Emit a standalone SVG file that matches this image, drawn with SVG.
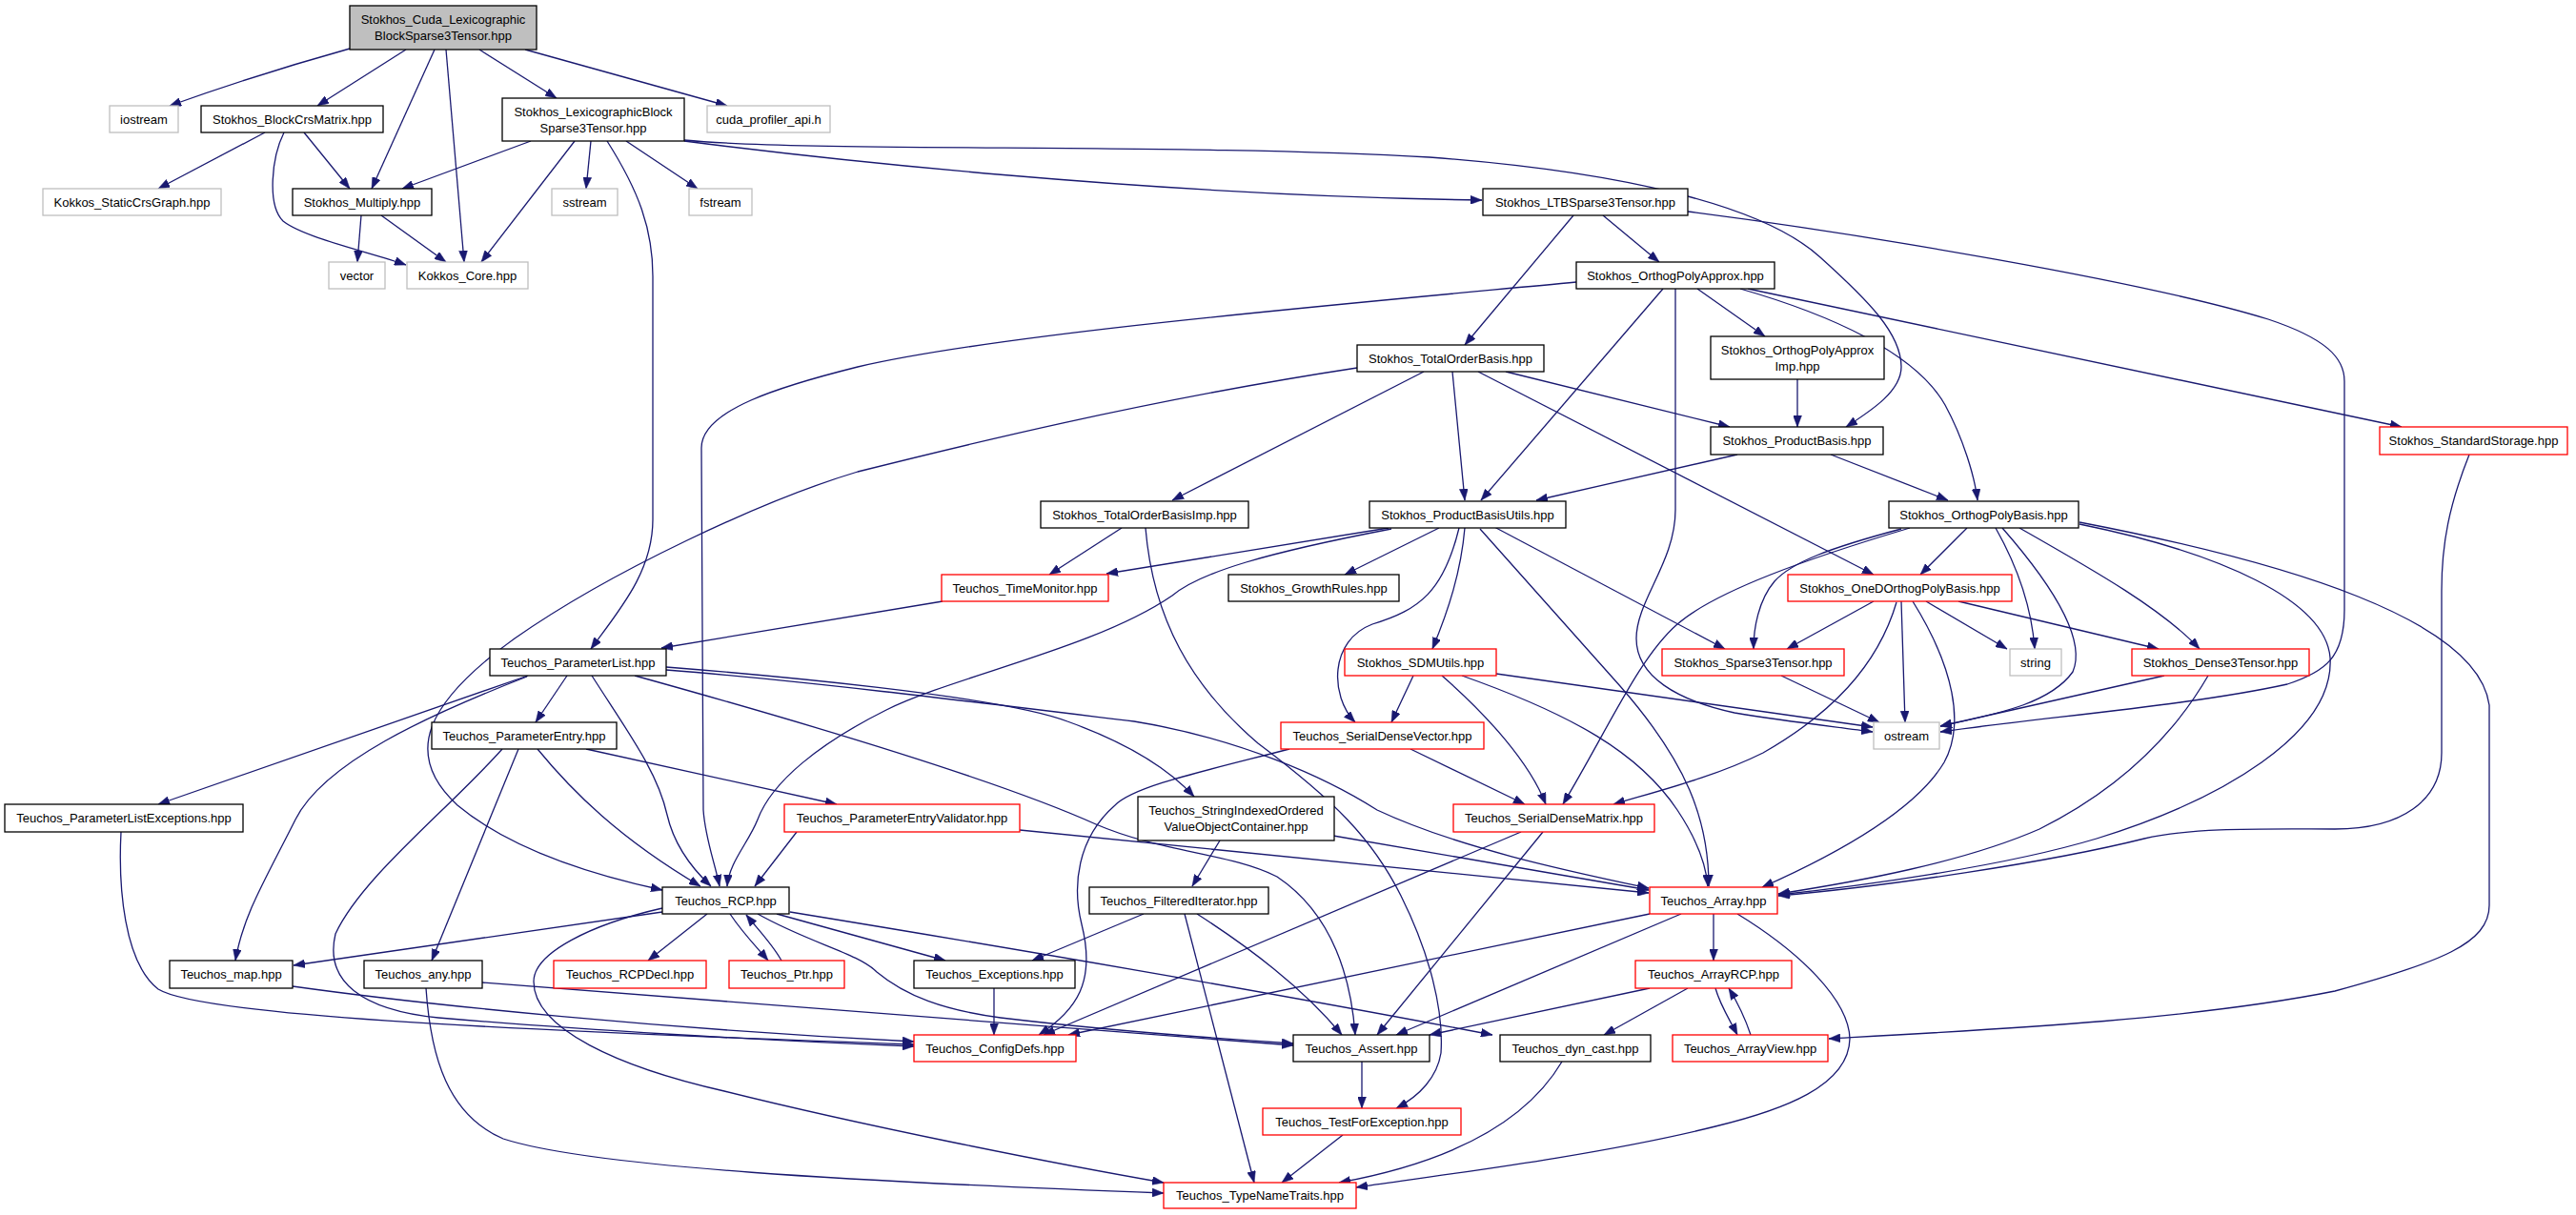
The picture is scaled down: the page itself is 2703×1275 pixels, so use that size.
<svg xmlns="http://www.w3.org/2000/svg" width="2703" height="1275" viewBox="0 0 2703 1275">
<style>
.n rect{fill:#fff;stroke:#000;stroke-width:1.3}
.r rect{stroke:#ff0000}
.g rect{stroke:#bfbfbf}
.root rect{fill:#bfbfbf}
text{font-family:"Liberation Sans",Arial,sans-serif;font-size:13px;fill:#000;text-anchor:middle}
#edges path{fill:none;stroke:#191970;stroke-width:1.3;marker-end:url(#a)}
</style>
<defs>
<marker id="a" viewBox="0 0 12 9" refX="12" refY="4.5" markerWidth="12" markerHeight="9" markerUnits="userSpaceOnUse" orient="auto">
<path d="M0,0 L12,4.5 L0,9 z" fill="#191970" stroke="#191970" stroke-width="0.5"/>
</marker>
</defs>
<rect width="2703" height="1275" fill="#fff"/>
<g id="edges">
<path d="M367,51 Q270,78 178,111"/>
<path d="M426,52 L333,111"/>
<path d="M456,52 L390,198"/>
<path d="M468,52 L487,275"/>
<path d="M503,52 L584,103"/>
<path d="M551,52 L763,111"/>
<path d="M278,139 L166,198"/>
<path d="M319,139 L367,198"/>
<path d="M298,139 C285,165 280,215 297,232 C320,250 390,265 426,278"/>
<path d="M379,226 L375,275"/>
<path d="M400,226 L468,275"/>
<path d="M557,148 L422,198"/>
<path d="M603,148 L505,275"/>
<path d="M620,148 L615,198"/>
<path d="M657,148 L732,198"/>
<path d="M637,148 C670,200 685,240 685,290 L685,545 C685,600 650,640 620,681"/>
<path d="M718,148 C850,165 1200,205 1555,210"/>
<path d="M718,147 C850,160 1250,150 1500,165 C1700,180 1850,215 1910,270 C1960,315 1995,350 1995,385 C1995,410 1965,430 1937,448"/>
<path d="M1682,226 L1741,275"/>
<path d="M1651,226 L1537,362"/>
<path d="M1771,222 C1950,245 2250,295 2380,335 C2440,355 2460,375 2460,400 L2460,640 C2460,690 2440,705 2400,718 C2300,740 2150,752 2036,768"/>
<path d="M1654,296 C1400,320 1050,350 900,385 C820,405 736,430 736,470 L738,850 C740,880 750,905 755,930"/>
<path d="M1781,303 L1852,353"/>
<path d="M1745,303 L1554,525"/>
<path d="M1758,303 L1758,535 C1758,590 1717,630 1717,670 C1717,710 1760,735 1820,748 C1880,758 1930,763 1965,768"/>
<path d="M1826,303 C1920,330 2010,370 2041,425 C2060,460 2072,500 2075,525"/>
<path d="M1834,303 L2520,448"/>
<path d="M1886,398 L1886,448"/>
<path d="M1494,390 L1230,525"/>
<path d="M1524,390 L1537,525"/>
<path d="M1580,390 L1815,448"/>
<path d="M1424,386 C1200,420 1000,470 900,495 C800,525 640,600 540,670 C450,735 420,790 480,845 C540,895 630,920 695,934"/>
<path d="M1551,390 L1966,603"/>
<path d="M1823,477 L1612,525"/>
<path d="M1921,477 L2044,525"/>
<path d="M1177,554 L1101,603"/>
<path d="M1202,554 C1210,650 1250,720 1320,780 C1400,840 1440,880 1470,940 C1500,1000 1515,1060 1512,1105 C1508,1130 1490,1150 1465,1163"/>
<path d="M1457,554 L1161,602"/>
<path d="M1460,555 C1330,580 1260,600 1230,625 C1150,680 1000,710 930,745 C860,780 810,820 795,860 C785,885 765,905 763,930"/>
<path d="M1510,554 L1411,603"/>
<path d="M1537,554 C1533,600 1520,640 1503,681"/>
<path d="M1531,554 C1515,620 1490,640 1440,655 C1395,672 1395,730 1422,758"/>
<path d="M1553,555 L1700,720 C1770,800 1793,860 1793,930"/>
<path d="M1568,553 L1810,681"/>
<path d="M1483,709 L1460,758"/>
<path d="M1513,709 C1560,750 1605,800 1622,844"/>
<path d="M1534,709 C1650,750 1720,790 1760,850 C1780,880 1790,905 1792,930"/>
<path d="M1570,707 L1965,763"/>
<path d="M1480,786 L1600,844"/>
<path d="M1353,786 C1260,810 1190,825 1170,845 C1130,880 1125,930 1135,970 C1150,1030 1130,1060 1090,1086"/>
<path d="M554,709 L166,844"/>
<path d="M553,710 C450,750 340,800 310,860 C280,920 255,960 247,1008"/>
<path d="M595,709 L562,758"/>
<path d="M621,709 C660,770 690,810 700,855 C708,890 730,915 746,930"/>
<path d="M666,709 C850,760 1050,820 1150,865 C1220,895 1290,895 1340,920 C1400,960 1418,1030 1422,1086"/>
<path d="M699,700 C800,708 1050,730 1120,757 C1170,775 1220,800 1253,836"/>
<path d="M699,703 C850,715 1050,740 1190,757 C1300,775 1390,815 1445,850 C1530,890 1650,915 1730,932"/>
<path d="M615,786 L878,844"/>
<path d="M564,786 C600,830 650,880 735,930"/>
<path d="M544,786 L453,1008"/>
<path d="M527,786 C470,850 380,920 352,980 C340,1030 380,1060 460,1068 C600,1080 800,1092 959,1098"/>
<path d="M836,873 L792,930"/>
<path d="M1070,871 L1730,937"/>
<path d="M1280,882 L1251,930"/>
<path d="M1399,877 L1730,934"/>
<path d="M1200,959 L1083,1008"/>
<path d="M1256,959 C1320,1000 1370,1040 1408,1086"/>
<path d="M1243,959 L1316,1241"/>
<path d="M1596,873 L1095,1086"/>
<path d="M1619,873 L1445,1086"/>
<path d="M1966,631 L1875,681"/>
<path d="M1995,631 L1999,758"/>
<path d="M2021,631 L2106,681"/>
<path d="M2055,631 L2265,681"/>
<path d="M1990,632 C1970,700 1920,750 1850,790 C1800,815 1740,830 1693,844"/>
<path d="M2007,631 C2050,700 2062,760 2040,800 C2010,850 1930,895 1849,931"/>
<path d="M2064,554 L2015,603"/>
<path d="M1995,555 C1920,575 1880,590 1862,610 C1845,630 1840,660 1840,681"/>
<path d="M2004,554 C1900,585 1800,620 1760,655 C1720,690 1690,760 1640,844"/>
<path d="M2094,554 C2120,600 2132,640 2135,681"/>
<path d="M2101,554 C2150,610 2190,670 2175,705 C2150,740 2090,750 2036,762"/>
<path d="M2119,554 C2200,600 2270,640 2308,681"/>
<path d="M2182,550 C2330,580 2440,630 2445,690 C2450,770 2330,840 2200,880 C2100,910 1950,930 1866,939"/>
<path d="M2182,548 C2400,590 2600,650 2612,740 L2612,950 C2612,990 2560,1010 2450,1040 C2300,1070 2100,1080 1919,1090"/>
<path d="M2271,709 L2036,762"/>
<path d="M2317,709 C2270,790 2200,840 2140,870 C2060,905 1950,925 1866,938"/>
<path d="M1869,709 L1972,758"/>
<path d="M2591,477 C2570,530 2562,570 2562,620 L2562,790 C2562,840 2520,870 2450,870 C2380,870 2300,868 2250,880 C2150,905 1980,930 1866,940"/>
<path d="M989,631 L694,680"/>
<path d="M695,957 L308,1013"/>
<path d="M742,959 L680,1008"/>
<path d="M766,959 C780,980 795,995 806,1008"/>
<path d="M820,1008 C810,990 795,975 783,960"/>
<path d="M815,959 L992,1008"/>
<path d="M795,959 C850,990 900,1000 920,1020 C950,1045 990,1060 1050,1068 C1150,1080 1250,1088 1357,1095"/>
<path d="M829,957 C1000,985 1300,1035 1566,1086"/>
<path d="M695,953 C620,970 560,1000 560,1030 C560,1080 650,1120 760,1145 C900,1180 1100,1220 1221,1241"/>
<path d="M307,1035 C450,1055 700,1080 959,1093"/>
<path d="M127,873 C124,930 130,1010 166,1038 C210,1065 500,1080 959,1096"/>
<path d="M506,1031 L1357,1097"/>
<path d="M447,1037 C452,1110 470,1170 528,1195 C620,1225 900,1240 1221,1252"/>
<path d="M1043,1037 L1043,1086"/>
<path d="M1429,1114 L1429,1163"/>
<path d="M1409,1191 L1345,1241"/>
<path d="M1639,1114 C1600,1180 1520,1220 1405,1241"/>
<path d="M1823,959 C1890,1000 1940,1050 1941,1090 C1940,1140 1870,1165 1800,1182 C1680,1212 1520,1232 1423,1246"/>
<path d="M1731,959 L1121,1086"/>
<path d="M1764,959 L1465,1086"/>
<path d="M1798,959 L1798,1008"/>
<path d="M1731,1037 L1500,1086"/>
<path d="M1771,1037 L1683,1086"/>
<path d="M1800,1037 C1805,1055 1815,1070 1823,1086"/>
<path d="M1837,1086 C1830,1065 1822,1050 1814,1037"/>
</g>
<g id="root" class="n root"><rect x="367" y="6" width="196" height="46"/><text x="465" y="25">Stokhos_Cuda_Lexicographic</text><text x="465" y="42">BlockSparse3Tensor.hpp</text></g>
<g id="iostream" class="n g"><rect x="115" y="111" width="72" height="28"/><text x="151" y="129.5">iostream</text></g>
<g id="blockcrs" class="n"><rect x="211" y="111" width="191" height="28"/><text x="306.5" y="129.5">Stokhos_BlockCrsMatrix.hpp</text></g>
<g id="lexblock" class="n"><rect x="527" y="103" width="191" height="45"/><text x="622.5" y="121.5">Stokhos_LexicographicBlock</text><text x="622.5" y="138.5">Sparse3Tensor.hpp</text></g>
<g id="cuda" class="n g"><rect x="742" y="111" width="129" height="28"/><text x="806.5" y="129.5">cuda_profiler_api.h</text></g>
<g id="staticcrs" class="n g"><rect x="45" y="198" width="187" height="28"/><text x="138.5" y="216.5">Kokkos_StaticCrsGraph.hpp</text></g>
<g id="multiply" class="n"><rect x="307" y="198" width="146" height="28"/><text x="380" y="216.5">Stokhos_Multiply.hpp</text></g>
<g id="sstream" class="n g"><rect x="579" y="198" width="69" height="28"/><text x="613.5" y="216.5">sstream</text></g>
<g id="fstream" class="n g"><rect x="723" y="198" width="66" height="28"/><text x="756" y="216.5">fstream</text></g>
<g id="vector" class="n g"><rect x="345" y="275" width="59" height="28"/><text x="374.5" y="293.5">vector</text></g>
<g id="kcore" class="n g"><rect x="427" y="275" width="127" height="28"/><text x="490.5" y="293.5">Kokkos_Core.hpp</text></g>
<g id="ltb" class="n"><rect x="1556" y="198" width="215" height="28"/><text x="1663.5" y="216.5">Stokhos_LTBSparse3Tensor.hpp</text></g>
<g id="opa" class="n"><rect x="1654" y="275" width="208" height="28"/><text x="1758" y="293.5">Stokhos_OrthogPolyApprox.hpp</text></g>
<g id="tob" class="n"><rect x="1424" y="362" width="196" height="28"/><text x="1522" y="380.5">Stokhos_TotalOrderBasis.hpp</text></g>
<g id="opaimp" class="n"><rect x="1795" y="353" width="182" height="45"/><text x="1886" y="371.5">Stokhos_OrthogPolyApprox</text><text x="1886" y="388.5">Imp.hpp</text></g>
<g id="pb" class="n"><rect x="1795" y="448" width="181" height="29"/><text x="1885.5" y="467">Stokhos_ProductBasis.hpp</text></g>
<g id="ss" class="n r"><rect x="2497" y="448" width="197" height="29"/><text x="2595.5" y="467">Stokhos_StandardStorage.hpp</text></g>
<g id="tobimp" class="n"><rect x="1092" y="526" width="218" height="28"/><text x="1201" y="544.5">Stokhos_TotalOrderBasisImp.hpp</text></g>
<g id="pbu" class="n"><rect x="1437" y="526" width="206" height="28"/><text x="1540" y="544.5">Stokhos_ProductBasisUtils.hpp</text></g>
<g id="opb" class="n"><rect x="1982" y="526" width="199" height="28"/><text x="2081.5" y="544.5">Stokhos_OrthogPolyBasis.hpp</text></g>
<g id="tm" class="n r"><rect x="988" y="603" width="175" height="28"/><text x="1075.5" y="621.5">Teuchos_TimeMonitor.hpp</text></g>
<g id="gr" class="n"><rect x="1289" y="603" width="179" height="28"/><text x="1378.5" y="621.5">Stokhos_GrowthRules.hpp</text></g>
<g id="oned" class="n r"><rect x="1876" y="603" width="235" height="28"/><text x="1993.5" y="621.5">Stokhos_OneDOrthogPolyBasis.hpp</text></g>
<g id="pl" class="n"><rect x="514" y="681" width="185" height="28"/><text x="606.5" y="699.5">Teuchos_ParameterList.hpp</text></g>
<g id="sdm" class="n r"><rect x="1411" y="681" width="159" height="28"/><text x="1490.5" y="699.5">Stokhos_SDMUtils.hpp</text></g>
<g id="s3t" class="n r"><rect x="1744" y="681" width="191" height="28"/><text x="1839.5" y="699.5">Stokhos_Sparse3Tensor.hpp</text></g>
<g id="string" class="n g"><rect x="2109" y="681" width="54" height="28"/><text x="2136" y="699.5">string</text></g>
<g id="d3t" class="n r"><rect x="2237" y="681" width="186" height="28"/><text x="2330" y="699.5">Stokhos_Dense3Tensor.hpp</text></g>
<g id="pe" class="n"><rect x="453" y="758" width="194" height="28"/><text x="550" y="776.5">Teuchos_ParameterEntry.hpp</text></g>
<g id="sdv" class="n r"><rect x="1344" y="758" width="213" height="28"/><text x="1450.5" y="776.5">Teuchos_SerialDenseVector.hpp</text></g>
<g id="ostream" class="n g"><rect x="1966" y="758" width="69" height="28"/><text x="2000.5" y="776.5">ostream</text></g>
<g id="ple" class="n"><rect x="5" y="844" width="250" height="29"/><text x="130" y="863">Teuchos_ParameterListExceptions.hpp</text></g>
<g id="pev" class="n r"><rect x="823" y="844" width="247" height="29"/><text x="946.5" y="863">Teuchos_ParameterEntryValidator.hpp</text></g>
<g id="sioc" class="n"><rect x="1194" y="836" width="206" height="46"/><text x="1297" y="855">Teuchos_StringIndexedOrdered</text><text x="1297" y="872">ValueObjectContainer.hpp</text></g>
<g id="sdmat" class="n r"><rect x="1525" y="844" width="211" height="29"/><text x="1630.5" y="863">Teuchos_SerialDenseMatrix.hpp</text></g>
<g id="rcp" class="n"><rect x="695" y="931" width="133" height="28"/><text x="761.5" y="949.5">Teuchos_RCP.hpp</text></g>
<g id="fi" class="n"><rect x="1143" y="931" width="188" height="28"/><text x="1237" y="949.5">Teuchos_FilteredIterator.hpp</text></g>
<g id="array" class="n r"><rect x="1731" y="931" width="134" height="28"/><text x="1798" y="949.5">Teuchos_Array.hpp</text></g>
<g id="map" class="n"><rect x="178" y="1008" width="129" height="29"/><text x="242.5" y="1027">Teuchos_map.hpp</text></g>
<g id="any" class="n"><rect x="382" y="1008" width="124" height="29"/><text x="444" y="1027">Teuchos_any.hpp</text></g>
<g id="rcpdecl" class="n r"><rect x="581" y="1008" width="160" height="29"/><text x="661" y="1027">Teuchos_RCPDecl.hpp</text></g>
<g id="ptr" class="n r"><rect x="765" y="1008" width="121" height="29"/><text x="825.5" y="1027">Teuchos_Ptr.hpp</text></g>
<g id="exc" class="n"><rect x="959" y="1008" width="169" height="29"/><text x="1043.5" y="1027">Teuchos_Exceptions.hpp</text></g>
<g id="arcp" class="n r"><rect x="1716" y="1008" width="164" height="29"/><text x="1798" y="1027">Teuchos_ArrayRCP.hpp</text></g>
<g id="cfg" class="n r"><rect x="959" y="1086" width="170" height="28"/><text x="1044" y="1104.5">Teuchos_ConfigDefs.hpp</text></g>
<g id="assert" class="n"><rect x="1357" y="1086" width="143" height="28"/><text x="1428.5" y="1104.5">Teuchos_Assert.hpp</text></g>
<g id="dyn" class="n"><rect x="1574" y="1086" width="158" height="28"/><text x="1653" y="1104.5">Teuchos_dyn_cast.hpp</text></g>
<g id="av" class="n r"><rect x="1755" y="1086" width="163" height="28"/><text x="1836.5" y="1104.5">Teuchos_ArrayView.hpp</text></g>
<g id="tfe" class="n r"><rect x="1325" y="1163" width="208" height="28"/><text x="1429" y="1181.5">Teuchos_TestForException.hpp</text></g>
<g id="tnt" class="n r"><rect x="1221" y="1241" width="202" height="27"/><text x="1322" y="1259">Teuchos_TypeNameTraits.hpp</text></g>
</svg>
